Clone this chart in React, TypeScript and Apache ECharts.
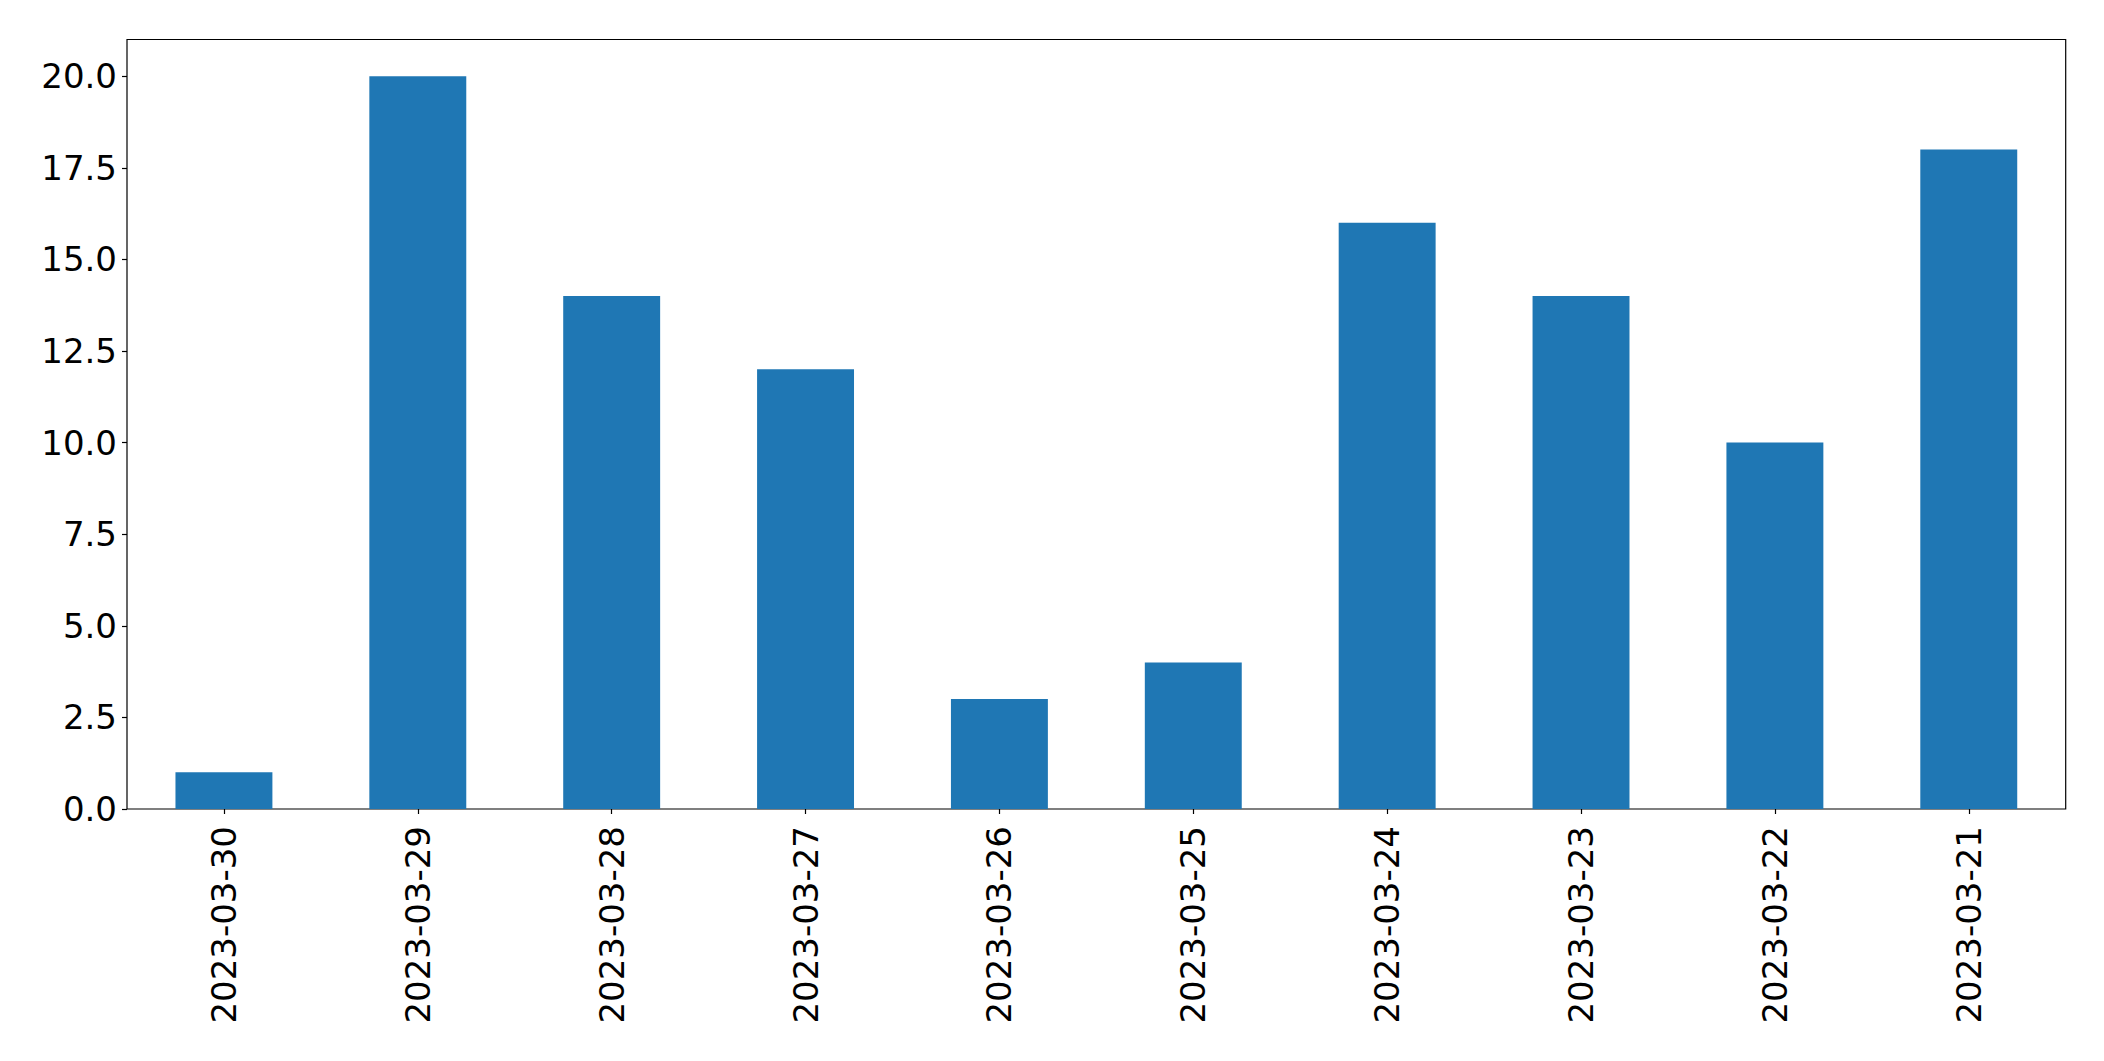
import { useEffect, useRef } from 'react';
import * as echarts from 'echarts';

const dates = [
  '2023-03-30',
  '2023-03-29',
  '2023-03-28',
  '2023-03-27',
  '2023-03-26',
  '2023-03-25',
  '2023-03-24',
  '2023-03-23',
  '2023-03-22',
  '2023-03-21',
];
const counts = [1, 20, 14, 12, 3, 4, 16, 14, 10, 18];
const yTicks = [0, 2.5, 5, 7.5, 10, 12.5, 15, 17.5, 20];

const FONT = 'DejaVu Sans';

export default function App() {
  const chartRef = useRef<HTMLDivElement>(null);

  useEffect(() => {
    document.body.style.margin = '0';
    if (!chartRef.current) return;
    const chart = echarts.init(chartRef.current, undefined, { renderer: 'svg' });

    chart.setOption({
      animation: false,
      backgroundColor: '#ffffff',
      grid: {
        left: 127,
        top: 39.5,
        right: 38.3,
        bottom: 252,
        show: true,
        borderColor: '#000000',
        borderWidth: 1.2,
        backgroundColor: 'transparent',
      },
      xAxis: {
        type: 'category',
        data: dates,
        axisLine: { show: false },
        axisTick: {
          show: true,
          alignWithLabel: true,
          length: 5,
          lineStyle: { color: '#000', width: 1.2 },
        },
        axisLabel: {
          rotate: 90,
          margin: 17,
          color: '#000',
          fontFamily: FONT,
          fontSize: 34,
          interval: 0,
        },
        splitLine: { show: false },
      },
      yAxis: {
        type: 'value',
        min: 0,
        max: 21,
        interval: 2.5,
        axisLine: { show: false },
        axisTick: {
          show: true,
          length: 5,
          customValues: yTicks,
          lineStyle: { color: '#000', width: 1.2 },
        },
        axisLabel: {
          margin: 10,
          color: '#000',
          fontFamily: FONT,
          fontSize: 34,
          customValues: yTicks,
          formatter: (v: number) => v.toFixed(1),
        },
        splitLine: { show: false },
      },
      series: [
        {
          type: 'bar',
          data: counts,
          barWidth: '50%',
          itemStyle: { color: '#1f77b4' },
        },
      ],
    });

    return () => {
      chart.dispose();
    };
  }, []);

  return <div ref={chartRef} style={{ width: 2104, height: 1061 }} />;
}
